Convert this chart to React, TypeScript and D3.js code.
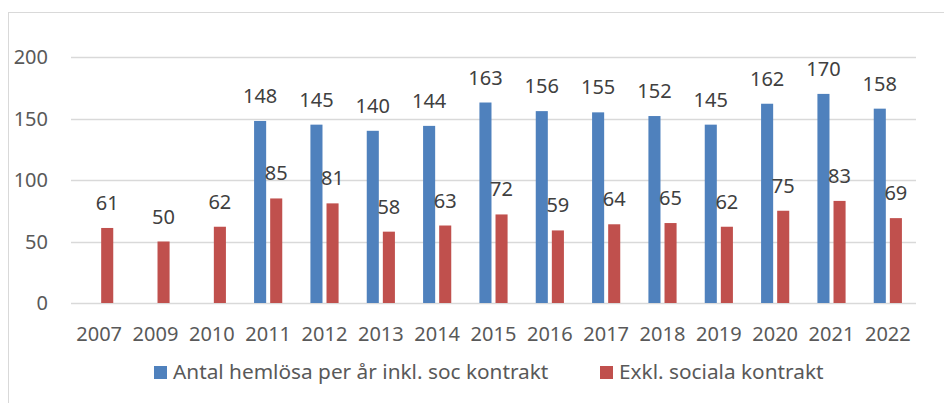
import React, { useRef, useEffect } from "react";
import * as d3 from "d3";

// data
const years = ["2007", "2009", "2010", "2011", "2012", "2013", "2014", "2015", "2016", "2017", "2018", "2019", "2020", "2021", "2022"];
const inklSoc = [null, null, null, 148, 145, 140, 144, 163, 156, 155, 152, 145, 162, 170, 158];
const exklSoc = [61, 50, 62, 85, 81, 58, 63, 72, 59, 64, 65, 62, 75, 83, 69];
const yTicks = [0, 50, 100, 150, 200];
const seriesNames = ["Antal hemlösa per år inkl. soc kontrakt", "Exkl. sociala kontrakt"];
const colors = ["#4F81BD", "#C0504D"];

const W = 944;
const H = 403;
const FONT = "'Noto Sans', 'Open Sans', sans-serif";

const App = () => {
  const svgRef = useRef<SVGSVGElement>(null);

  useEffect(() => {
    const svg = d3.select(svgRef.current);
    svg.selectAll("*").remove();

    // chart frame (only top + left visible)
    svg.append("rect")
      .attr("x", 8.5).attr("y", 12.5)
      .attr("width", 1000).attr("height", 1000)
      .attr("fill", "white")
      .attr("stroke", "#D9D9D9");

    const x = d3.scaleBand().domain(years).range([71, 916]).paddingInner(0.5).paddingOuter(0.25);
    const x1 = d3.scaleBand().domain(["a", "b"]).range([0, x.bandwidth()]).paddingInner(0.25);
    const y = d3.scaleLinear().domain([0, 200]).range([303, 57]);

    // gridlines
    svg.append("g").selectAll("line")
      .data(yTicks)
      .join("line")
      .attr("x1", 71).attr("x2", 916)
      .attr("y1", (d) => Math.round(y(d)) + 0.5)
      .attr("y2", (d) => Math.round(y(d)) + 0.5)
      .attr("stroke", "#D9D9D9")
      .attr("stroke-width", 1.5);

    // y tick labels
    svg.append("g").selectAll("text")
      .data(yTicks)
      .join("text")
      .attr("x", 48)
      .attr("y", (d) => y(d) + 7)
      .attr("text-anchor", "end")
      .attr("font-family", FONT)
      .attr("font-size", 20)
      .attr("fill", "#595959")
      .text((d) => d);

    // x labels
    svg.append("g").selectAll("text")
      .data(years)
      .join("text")
      .attr("x", (d) => x(d)! + x.bandwidth() / 2)
      .attr("y", 341)
      .attr("text-anchor", "middle")
      .attr("font-family", FONT)
      .attr("font-size", 20)
      .attr("fill", "#595959")
      .text((d) => d);

    const series = [inklSoc, exklSoc];
    const keys = ["a", "b"];
    series.forEach((vals, si) => {
      const pts = years.map((yr, i) => ({ yr, v: vals[i] })).filter((p) => p.v != null) as { yr: string; v: number }[];
      const g = svg.append("g");
      g.selectAll("rect")
        .data(pts)
        .join("rect")
        .attr("x", (d) => x(d.yr)! + x1(keys[si])!)
        .attr("y", (d) => y(d.v))
        .attr("width", x1.bandwidth())
        .attr("height", (d) => y(0) - y(d.v))
        .attr("fill", colors[si]);
      g.selectAll("text")
        .data(pts)
        .join("text")
        .attr("x", (d) => x(d.yr)! + x1(keys[si])! + x1.bandwidth() / 2)
        .attr("y", (d) => y(d.v) - 18)
        .attr("text-anchor", "middle")
        .attr("font-family", FONT)
        .attr("font-size", 20)
        .attr("fill", "#404040")
        .text((d) => d.v);
    });

    // legend
    const legendX = [154, 600];
    seriesNames.forEach((name, i) => {
      svg.append("rect")
        .attr("x", legendX[i]).attr("y", 366)
        .attr("width", 13).attr("height", 13)
        .attr("fill", colors[i]);
      svg.append("text")
        .attr("x", legendX[i] + 19).attr("y", 379)
        .attr("font-family", FONT)
        .attr("font-size", 20.8)
        .attr("fill", "#595959")
        .text(name);
    });
  }, []);

  return (
    <svg ref={svgRef} width={W} height={H} style={{ position: "absolute", left: 0, top: 0 }} />
  );
};

export default App;
